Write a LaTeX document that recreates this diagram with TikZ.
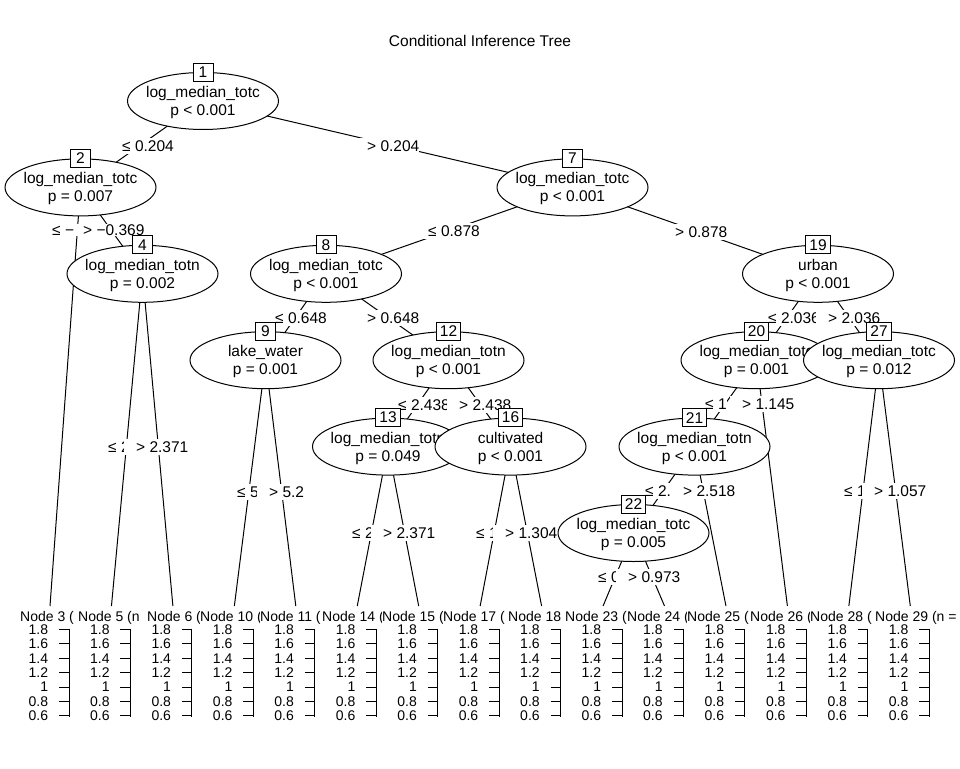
\documentclass[tikz,border=0pt]{standalone}
\usepackage{fontspec}
\setmainfont{Liberation Sans}
\usetikzlibrary{shapes.geometric}
\pgfdeclarelayer{canvas}
\pgfdeclarelayer{edges}
\pgfdeclarelayer{labels}
\pgfsetlayers{canvas,edges,labels,main}

% one line of a split node, of zero width so the ellipse keeps its fixed size
\newcommand{\ctr}[1]{\raisebox{-1.5pt}[\height][\depth]{\makebox[0pt]{#1}}}

\begin{document}
\begin{tikzpicture}[x=1pt,y=-1pt,
  every node/.style={font=\fontsize{15.5}{17}\selectfont},
  split/.style={shape=ellipse, draw, fill=white, line width=1pt,
    minimum width=151pt, minimum height=57pt, inner sep=0pt, align=center,
    font=\fontsize{15.5}{18}\selectfont},
  idbox/.style={draw, fill=white, line width=1pt, minimum width=20pt,
    minimum height=18pt, inner xsep=3.5pt, inner ysep=0pt},
  edgelab/.style={fill=white, anchor=west, inner xsep=0pt, inner ysep=3pt},
  leaflab/.style={fill=white, anchor=base west, inner xsep=0pt, inner ysep=1pt,
    font=\fontsize{14}{16}\selectfont},
  ticklab/.style={anchor=east, inner sep=0pt, font=\fontsize{14}{16}\selectfont},
  edge/.style={line width=1pt}]

% canvas
\begin{pgfonlayer}{canvas}
\fill[white] (0,0) rectangle (960,768);
\end{pgfonlayer}
\useasboundingbox (0,0) rectangle (960,768);

\node[anchor=base] (title) at (480,46) {Conditional Inference Tree};

% inner (split) nodes, drawn in depth-first order
\node[split] (n1)  at (203,101)     {\ctr{log\_median\_totc}\\\ctr{p < 0.001}};
\node[split] (n2)  at (80.5,187.4)  {\ctr{log\_median\_totc}\\\ctr{p = 0.007}};
\node[split] (n4)  at (142.5,273.8) {\ctr{log\_median\_totn}\\\ctr{p = 0.002}};
\node[split] (n7)  at (572.5,187.4) {\ctr{log\_median\_totc}\\\ctr{p < 0.001}};
\node[split] (n8)  at (326,273.8)   {\ctr{log\_median\_totc}\\\ctr{p < 0.001}};
\node[split] (n9)  at (265.5,360.2) {\ctr{lake\_water}\\\ctr{p = 0.001}};
\node[split] (n12) at (448.5,360.2) {\ctr{log\_median\_totn}\\\ctr{p < 0.001}};
\node[split] (n13) at (388,446.6)   {\ctr{log\_median\_totn}\\\ctr{p = 0.049}};
\node[split] (n16) at (510.5,446.6) {\ctr{cultivated}\\\ctr{p < 0.001}};
\node[split] (n19) at (818,273.8)   {\ctr{urban}\\\ctr{p < 0.001}};
\node[split] (n20) at (756.5,360.2) {\ctr{log\_median\_totc}\\\ctr{p = 0.001}};
\node[split] (n21) at (694.5,446.6) {\ctr{log\_median\_totn}\\\ctr{p < 0.001}};
\node[split] (n22) at (633.5,533)   {\ctr{log\_median\_totc}\\\ctr{p = 0.005}};
\node[split] (n27) at (879,360.2)   {\ctr{log\_median\_totc}\\\ctr{p = 0.012}};

% node numbers
\foreach \k in {1,2,4,7,8,9,12,13,16,19,20,21,22,27}
  \node[idbox] (id\k) at (n\k.north) {\k};

% ends of the edges into the terminal panels
\foreach \k/\x in {3/50,5/111.45,6/172.9,10/234.35,11/295.8,14/357.25,15/418.7,
  17/480.15,18/541.6,23/603.05,24/664.5,25/725.95,26/787.4,28/848.85,29/910.3}
  \coordinate (t\k) at (\x,606);

% edges
\begin{pgfonlayer}{edges}
\draw[edge] (n1.center) -- (n2.center);
\draw[edge] (n1.center) -- (n7.center);
\draw[edge] (n2.center) -- (t3);
\draw[edge] (n2.center) -- (n4.center);
\draw[edge] (n4.center) -- (t5);
\draw[edge] (n4.center) -- (t6);
\draw[edge] (n7.center) -- (n8.center);
\draw[edge] (n7.center) -- (n19.center);
\draw[edge] (n8.center) -- (n9.center);
\draw[edge] (n8.center) -- (n12.center);
\draw[edge] (n9.center) -- (t10);
\draw[edge] (n9.center) -- (t11);
\draw[edge] (n12.center) -- (n13.center);
\draw[edge] (n12.center) -- (n16.center);
\draw[edge] (n13.center) -- (t14);
\draw[edge] (n13.center) -- (t15);
\draw[edge] (n16.center) -- (t17);
\draw[edge] (n16.center) -- (t18);
\draw[edge] (n19.center) -- (n20.center);
\draw[edge] (n19.center) -- (n27.center);
\draw[edge] (n20.center) -- (n21.center);
\draw[edge] (n20.center) -- (t26);
\draw[edge] (n21.center) -- (n22.center);
\draw[edge] (n21.center) -- (t25);
\draw[edge] (n22.center) -- (t23);
\draw[edge] (n22.center) -- (t24);
\draw[edge] (n27.center) -- (t28);
\draw[edge] (n27.center) -- (t29);
\end{pgfonlayer}

% split labels on the edges
\begin{pgfonlayer}{labels}
\node[edgelab] (e1-2)   at (110,146) {\hspace*{12pt}≤ 0.204};
\node[edgelab] (e1-7)   at (355,146) {\hspace*{12pt}> 0.204};
\node[edgelab] (e2-3)   at (40,231)  {\hspace*{12pt}≤ −};
\node[edgelab, inner ysep=1pt] (e2-4) at (75,230) {\hspace*{8pt}> −0.369};
\node[edgelab] (e4-5)   at (96,447)  {\hspace*{12pt}≤ 2};
\node[edgelab] (e4-6)   at (124,447) {\hspace*{12pt}> 2.371};
\node[edgelab] (e7-8)   at (416,231) {\hspace*{12pt}≤ 0.878};
\node[edgelab] (e8-9)   at (263,318) {\hspace*{12pt}≤ 0.648};
\node[edgelab] (e9-10)  at (225,492) {\hspace*{12pt}≤ 5};
\node[edgelab] (e9-11)  at (257,492) {\hspace*{12pt}> 5.2};
\node[edgelab] (e8-12)  at (355,318) {\hspace*{12pt}> 0.648};
\node[edgelab] (e12-13) at (386,405) {\hspace*{12pt}≤ 2.438};
\node[edgelab] (e13-14) at (340,533) {\hspace*{12pt}≤ 2};
\node[edgelab] (e13-15) at (371,533) {\hspace*{12pt}> 2.371};
\node[edgelab] (e12-16) at (447,405) {\hspace*{12pt}> 2.438};
\node[edgelab] (e16-17) at (464,533) {\hspace*{12pt}≤ 1};
\node[edgelab] (e16-18) at (493,533) {\hspace*{12pt}> 1.304};
\node[edgelab] (e7-19)  at (663,232) {\hspace*{12pt}> 0.878};
\node[edgelab] (e19-20) at (756,318) {\hspace*{12pt}≤ 2.036};
\node[edgelab] (e20-21) at (693,404) {\hspace*{12pt}≤ 1};
\node[edgelab] (e21-22) at (633,491) {\hspace*{12pt}≤ 2.};
\node[edgelab] (e22-23) at (586,577) {\hspace*{12pt}≤ 0};
\node[edgelab] (e22-24) at (616,577) {\hspace*{12pt}> 0.973};
\node[edgelab] (e21-25) at (671,491) {\hspace*{12pt}> 2.518};
\node[edgelab] (e20-26) at (730,404) {\hspace*{12pt}> 1.145};
\node[edgelab] (e19-27) at (816,318) {\hspace*{12pt}> 2.036};
\node[edgelab] (e27-28) at (832,491) {\hspace*{12pt}≤ 1};
\node[edgelab] (e27-29) at (862,491) {\hspace*{12pt}> 1.057};

% terminal panel titles, each one laid over the tail of the one before
\node[leaflab] (h3)  at (20,621)  {Node 3 (};
\node[leaflab] (h5)  at (78,621)  {Node 5 (n};
\node[leaflab] (h6)  at (147,621) {Node 6 (};
\node[leaflab] (h10) at (200,621) {Node 10 (};
\node[leaflab] (h11) at (260,621) {Node 11 (};
\node[leaflab] (h14) at (322,621) {Node 14 (};
\node[leaflab] (h15) at (382,621) {Node 15 (};
\node[leaflab] (h17) at (443,621) {Node 17 (};
\node[leaflab] (h18) at (508,621) {Node 18 (};
\node[leaflab] (h23) at (565,621) {Node 23 (};
\node[leaflab] (h24) at (627,621) {Node 24 (};
\node[leaflab] (h25) at (687,621) {Node 25 (};
\node[leaflab] (h26) at (750,621) {Node 26 (};
\node[leaflab] (h28) at (810,621) {Node 28 (};
\node[leaflab] (h29) at (875,621) {Node 29 (n =};
\end{pgfonlayer}

% y axes of the terminal panels
\foreach \i in {0,...,14} {
  \pgfmathsetmacro\ax{69+61.45*\i}
  \draw[edge] (\ax,628.5) -- (\ax,716.9);
  \foreach \v [count=\k] in {1.8,1.6,1.4,1.2,1,0.8,0.6} {
    \pgfmathsetmacro\yy{629.5+14.4*(\k-1)}
    \draw[edge] (\ax-10,\yy) -- (\ax,\yy);
    \node[ticklab] (tk\i-\k) at (\ax-20.7,\yy) {\v};
  }
}
\end{tikzpicture}
\end{document}
